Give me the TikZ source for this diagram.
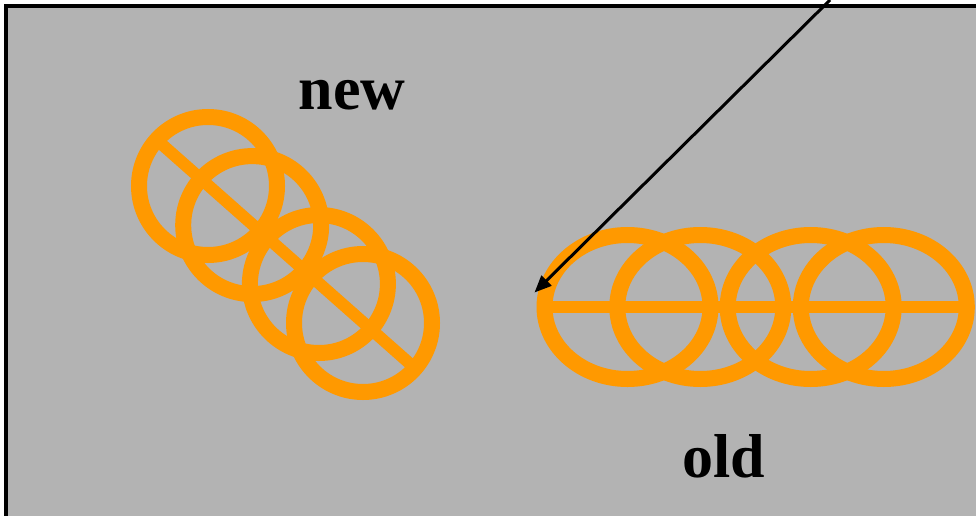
\documentclass[tikz,border=0pt]{standalone}
\usepackage{fontspec}
\setmainfont{Liberation Serif}
\usetikzlibrary{arrows.meta,shapes.geometric}
\definecolor{panelgray}{RGB}{179,179,179}
\definecolor{ringorange}{RGB}{255,153,0}

\begin{document}
\begin{tikzpicture}[x=1pt,y=-1pt,>={Triangle[length=17pt,width=14pt]},
  ring/.style={draw=ringorange,line width=16pt,inner sep=0pt,outer sep=0pt},
  oldring/.style={ring,ellipse,minimum width=166pt,minimum height=144pt},
  newring/.style={ring,circle,minimum size=138pt},
  bar/.style={ringorange,line width=12pt},
  lbl/.style={font=\fontsize{62}{70}\selectfont\bfseries,inner sep=0pt,anchor=base}]
\useasboundingbox (0,0) rectangle (976,516);
\clip (0,0) rectangle (976,516);
\draw[fill=panelgray,line width=3.5pt] (6,6) rectangle (1000,540);
% old: four ellipses in a row
\foreach \n/\x in {1/627.5,2/700.3,3/810.7,4/883.8}
  \node[oldring] (old\n) at (\x,307) {};
\draw[bar] (old1.west) -- (old4.east);
% new: the chain turned down to the right
\foreach \n/\p in {1/{208,186},2/{252.2,225.1},3/{318.9,284},4/{363,323}}
  \node[newring] (new\n) at (\p) {};
\draw[bar] (new1.138.5) -- (new4.-41.5);
\node[lbl] (newlbl) at (352,110) {new};
\node[lbl] (oldlbl) at (724,477) {old};
\coordinate (src) at (830,0);
\coordinate (tip) at (534.5,292.5);
\draw[->,line width=3pt] (src) -- (tip);
\end{tikzpicture}
\end{document}
